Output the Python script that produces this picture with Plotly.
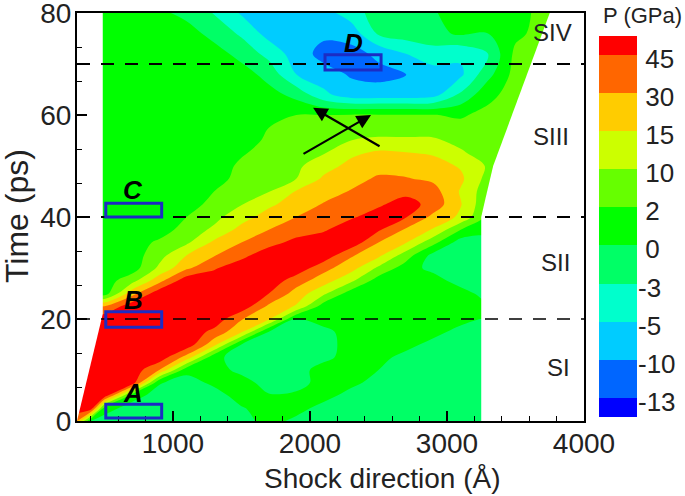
import numpy as np
import plotly.graph_objects as go

# pressure (GPa), one list per shock-direction position
# each list runs along time_ps, five values per line
time_ps = [0, 2.5, 5, 7.5, 10,
           12.5, 15, 17.5, 20, 22.5,
           25, 27.5, 30, 32.5, 35,
           37.5, 40, 42.5, 45, 47.5,
           50, 52.5, 55, 57.5, 60,
           64, 68, 72, 76, 80]
shock_x = [300, 400, 500, 700, 900, 1100, 1300, 1500, 1700, 1900, 2100,
           2300, 2500, 2700, 2900, 3100, 3300, 3500, 3700, 3900]

p_300 = [30, 55, 55, 55, 55,
         55, 55, 55, 55, 30,
         1, 1, 1, 1, 1,
         1, 1, 1, 1, 1,
         1, 1, 1, 1, 1,
         1, 1, 1, 1, 1]
p_400 = [0, 55, 55, 55, 55,
         55, 55, 55, 55, 30,
         1, 1, 1, 1, 1,
         1, 1, 1, 1, 1,
         1, 1, 1, 1, 1,
         1, 1, 1, 1, 1]
p_500 = [-1.5, 1, 55, 55, 55,
         55, 55, 55, 55, 30,
         1, 1, 1, 1, 1,
         1, 1, 1, 1, 1,
         1, 1, 1, 1, 1,
         1, 1, 1, 1, 1]
p_700 = [-1.5, -1.5, 1, 55, 55,
         55, 55, 55, 55, 55,
         24, 7, 1, 1, 1,
         1, 1, 1, 1, 1,
         1, 1, 1, 1, 1,
         1, 1, 1, 1, 1]
p_900 = [-1.5, -1.5, -1.5, 0.2, 30,
         55, 55, 55, 55, 55,
         55, 25, 11, 7, 3.5,
         1, 1, 1, 1, 1,
         1, 1, 1, 1, 1,
         1, 1, 1, 1, 0.5]
p_1100 = [-1.5, -1.5, -1.5, -1.5, 0.7,
          24, 55, 55, 55, 55,
          55, 55, 27, 15, 8.6,
          5.4, 2, 1, 1, 1,
          1, 1, 1, 1, 1,
          1, 1, 1, 1, -1]
p_1300 = [-1.5, -1.5, -1.5, 0.5, 1,
          0.6, 20, 41, 55, 55,
          55, 55, 43, 29, 18,
          11, 7.6, 4.8, 2, 1,
          1, 1, 1, 1, 1,
          1, 1, 1, -1.2, -3.1]
p_1500 = [-1.5, -0.3, 1, 1, -1,
          -1.5, 0, 17.5, 31, 55,
          55, 55, 55, 40, 30,
          20, 13, 9.6, 7.4, 5.4,
          3.5, 1.8, 1, 1, 1,
          1, 1, -1.2, -3.3, -5.6]
p_1700 = [1, 1, 0.2, -1.5, -1.5,
          -1.5, -1.5, 0, 17, 27,
          45, 55, 55, 55, 39,
          30, 21.5, 14, 9.7, 8,
          6.6, 5, 3.6, 2, 1,
          0.8, -1.2, -3.6, -7, -7.5]
p_1900 = [-1, 1, 0.5, -1.5, -1.5,
          -1.5, -1.5, -1.5, 0, 14.5,
          24, 37, 55, 55, 50,
          37, 30, 22, 16, 10,
          8.4, 7, 5, 3.5, 2,
          -1, -5, -7.5, -7.5, -7.5]
p_2100 = [-1.5, -1.5, 1, 1, 1,
          -1, -1.5, -1, 1, 1,
          11, 22, 35, 55, 55,
          43, 37, 31, 24, 17.5,
          13, 9.5, 7, 4.5, 2,
          -4.5, -8, -11, -9, -7]
p_2300 = [-1.5, -1.5, -1.5, 0.7, 1,
          1, 1, 1, 1, 1,
          1, 11, 21, 32, 55,
          55, 43, 37, 31, 25,
          19.5, 14, 10, 6, 2.5,
          -8, -10.3, -11, -8, -4]
p_2500 = [-1.5, -1.5, -1.5, -1.5, 0,
          1, 1, 1, 1, 1,
          1, 1, 8.5, 18.6, 30,
          47, 52, 42.5, 37, 32,
          25, 18, 11, 6, 2.5,
          -8, -10.8, -9, -2.5, -1.5]
p_2700 = [-1.5, -1.5, -1.5, -1.5, -1.5,
          -1.5, 1, 1, 1, 1,
          1, 1, 1, 6, 16,
          28, 46, 52, 40, 31,
          24, 16, 11, 5.6, 2.5,
          -8, -10.1, -5, -1.5, -1.5]
p_2900 = [-1.5, -1.5, -1.5, -1.5, -1.5,
          -1.5, -1.5, 1, 1, 1,
          1, 1, -1, -1, 4.5,
          14.5, 26, 39, 36, 27,
          21, 14.5, 11, 5, 2.2,
          -7, -7, -4, -0.8, -0.3]
p_3100 = [-1.5, -1.5, -1.5, -1.5, -1.5,
          -1.5, -1.5, -1.5, 1, 1,
          1, -1.5, -1.5, -1.5, -1.5,
          2, 14, 16, 14.5, 18,
          14.5, 11, 7, 4, 1.8,
          -2.5, -6, -4.6, 0.3, 1]
p_3300 = [-1.5, -1.5, -1.5, -1.5, -1.5,
          -1.5, -1.5, -1.5, 0, 0.5,
          -1.5, -1.5, -1.5, -1.5, -1.5,
          1, 1.5, 3, 5, 7,
          9, 5, 4, 4, 4,
          1.5, -1, -3, 0, 1]
p_3500 = [5, 5, 5, 5, 5,
          5, 5, 5, 5, 5,
          5, 5, 5, 5, 5,
          5, 5, 5, 5, 5,
          5, 5, 5, 5, 5,
          5, 5, 4, 1.5, 1]
p_3700 = [5, 5, 5, 5, 5,
          5, 5, 5, 5, 5,
          5, 5, 5, 5, 5,
          5, 5, 5, 5, 5,
          5, 5, 5, 5, 5,
          5, 5, 5, 5, 5]
p_3900 = p_3700

columns = [p_300, p_400, p_500, p_700, p_900, p_1100, p_1300, p_1500, p_1700,
           p_1900, p_2100, p_2300, p_2500, p_2700, p_2900, p_3100, p_3300,
           p_3500, p_3700, p_3900]

# the bands of the legend are not evenly spaced in GPa
band_edges = [-16, -13, -10, -5, -3, 0, 2, 10, 15, 30, 45, 60]
band_colors = ["#0000ff", "#0066ff", "#00ccff", "#00ffcc", "#00ff66", "#00ff00",
               "#66ff00", "#ccff00", "#ffcc00", "#ff6600", "#ff0000"]
band_labels = ["-13", "-10", "-5", "-3", "\u00a00", "\u00a02",
               "\u00a010", "\u00a015", "\u00a030", "\u00a045"]

# edges of the simulated region, outside it the picture is white
left_edge_x = [300, 488, 488, 300]
left_edge_y = [0, 21, 80, 80]
right_edge_x = [3250, 3250, 3278, 3337, 3750, 4000, 4000]
right_edge_y = [0, 40, 43.3, 50, 80, 80, 0]

dashed_times = [70, 40, 20]
dashed_widths = [2, 2, 1.5]

box_names = ["A", "B", "C", "D"]
box_x0 = [510, 510, 510, 2110]
box_x1 = [918, 918, 918, 2519]
box_y0 = [0.6, 18.4, 40, 68.8]
box_y1 = [3.3, 21.4, 42.7, 71.8]
box_label_x = [709, 709, 709, 2315]
box_label_y = [5.5, 23.7, 45.3, 74.1]

stage_names = ["SI", "SII", "SIII", "SIV"]
stage_x = [3811, 3789, 3760, 3768]
stage_y = [10.4, 31, 55.7, 76.1]

arrow_tail_x = [2519, 1942]
arrow_tail_y = [53.7, 52.2]
arrow_tip_x = [2023, 2446]
arrow_tip_y = [61.4, 60]

FONT = "Liberation Sans"
INK = "#222"
W, H = 685, 496

z = np.array(columns, dtype=float).T
z_band = np.interp(z, band_edges, np.arange(len(band_edges)))

n = len(band_colors)
colorscale = []
for i, c in enumerate(band_colors):
    colorscale.append([i / n, c])
    colorscale.append([(i + 1) / n, c])

fig = go.Figure()
fig.add_trace(go.Contour(
    x=shock_x, y=time_ps, z=z_band,
    zauto=False, zmin=0, zmax=n,
    colorscale=colorscale,
    autocontour=False,
    contours=dict(start=1, end=n - 1, size=1, coloring="fill", showlines=False),
    line=dict(width=0),
    hoverinfo="skip",
    showscale=False,
))

# legend strip, end bands are cut in half like in the original
fig.add_trace(go.Heatmap(
    x=[0], y=[k + 0.5 for k in range(n)], z=[[k + 0.5] for k in range(n)],
    zauto=False, zmin=0, zmax=n, colorscale=colorscale, showscale=False,
    hoverinfo="skip", xaxis="x2", yaxis="y2",
))

for xs, ys in [(left_edge_x, left_edge_y), (right_edge_x, right_edge_y)]:
    fig.add_trace(go.Scatter(x=xs, y=ys, mode="lines", fill="toself",
                             fillcolor="white", line=dict(width=0, color="white"),
                             hoverinfo="skip", showlegend=False))

for t, w in zip(dashed_times, dashed_widths):
    fig.add_trace(go.Scatter(x=[300, 4000], y=[t, t], mode="lines",
                             line=dict(color="black", width=w, dash="13px,11px"),
                             hoverinfo="skip", showlegend=False))

for i in range(len(box_names)):
    fig.add_shape(type="rect", x0=box_x0[i], x1=box_x1[i], y0=box_y0[i], y1=box_y1[i],
                  line=dict(color="#1c2cc4", width=3), layer="above")
    fig.add_annotation(x=box_label_x[i], y=box_label_y[i], text=f"<b><i>{box_names[i]}</i></b>",
                       showarrow=False, font=dict(family=FONT, size=26, color="black"))

for i in range(len(stage_names)):
    fig.add_annotation(x=stage_x[i], y=stage_y[i], text=stage_names[i], showarrow=False,
                       font=dict(family=FONT, size=24, color=INK))

for i in range(len(arrow_tip_x)):
    fig.add_annotation(x=arrow_tip_x[i], y=arrow_tip_y[i], ax=arrow_tail_x[i], ay=arrow_tail_y[i],
                       xref="x", yref="y", axref="x", ayref="y", text="", showarrow=True,
                       arrowhead=2, arrowsize=1.3, arrowwidth=2.2, arrowcolor="black")

# titles placed by hand, the legend strip would otherwise shift them
fig.add_annotation(x=642 / W, y=1 - 15 / H, xref="paper", yref="paper", text="P (GPa)",
                   xanchor="center", yanchor="middle", showarrow=False,
                   font=dict(family=FONT, size=22, color=INK))
fig.add_annotation(x=382 / W, y=1 - 478 / H, xref="paper", yref="paper", text="Shock direction (Å)",
                   xanchor="center", yanchor="middle", showarrow=False,
                   font=dict(family=FONT, size=28, color=INK))
fig.add_annotation(x=17 / W, y=1 - 216 / H, xref="paper", yref="paper", text="Time (ps)", textangle=-90,
                   xanchor="center", yanchor="middle", showarrow=False,
                   font=dict(family=FONT, size=32, color=INK))

fig.update_layout(
    width=W, height=H, autosize=False,
    margin=dict(l=0, r=0, t=0, b=0, pad=0),
    paper_bgcolor="white", plot_bgcolor="white",
    showlegend=False,
    xaxis=dict(
        domain=[77 / W, 584 / W], automargin=False,
        range=[300, 4000], tickmode="linear", tick0=0, dtick=1000,
        ticks="inside", ticklen=10, tickwidth=2, tickcolor="black",
        minor=dict(ticks="inside", dtick=200, tick0=0, ticklen=5, tickwidth=1, tickcolor="black"),
        showline=True, linecolor="black", linewidth=2, mirror=True, showgrid=False, zeroline=False,
        tickfont=dict(family=FONT, size=28, color=INK),
        ticklabeloverflow="allow", ticklabelstandoff=-4,
    ),
    yaxis=dict(
        domain=[1 - 421 / H, 1 - 13 / H], automargin=False,
        range=[0, 80], tickmode="linear", tick0=0, dtick=20,
        ticks="inside", ticklen=10, tickwidth=2, tickcolor="black",
        minor=dict(ticks="inside", dtick=20 / 3, tick0=0, ticklen=5, tickwidth=1, tickcolor="black"),
        showline=True, linecolor="black", linewidth=2, mirror=True, showgrid=False, zeroline=False,
        tickfont=dict(family=FONT, size=28, color=INK),
        ticklabeloverflow="allow", ticklabelstandoff=-2,
    ),
    xaxis2=dict(domain=[599 / W, 637 / W], anchor="y2", visible=False, automargin=False),
    yaxis2=dict(
        domain=[1 - 417 / H, 1 - 36 / H], anchor="x2", side="right", automargin=False,
        range=[0.5, 10.5], showgrid=False, zeroline=False, showline=False, ticks="",
        tickmode="array", tickvals=[k + 1 - 0.1 for k in range(len(band_labels))],
        ticktext=band_labels,
        tickfont=dict(family=FONT, size=26, color=INK),
        ticklabeloverflow="allow",
    ),
)

# the page default margin would push the figure 8px off
fig.write_html("out.html", config=dict(displayModeBar=False),
               post_script="document.body.style.margin='0';")
